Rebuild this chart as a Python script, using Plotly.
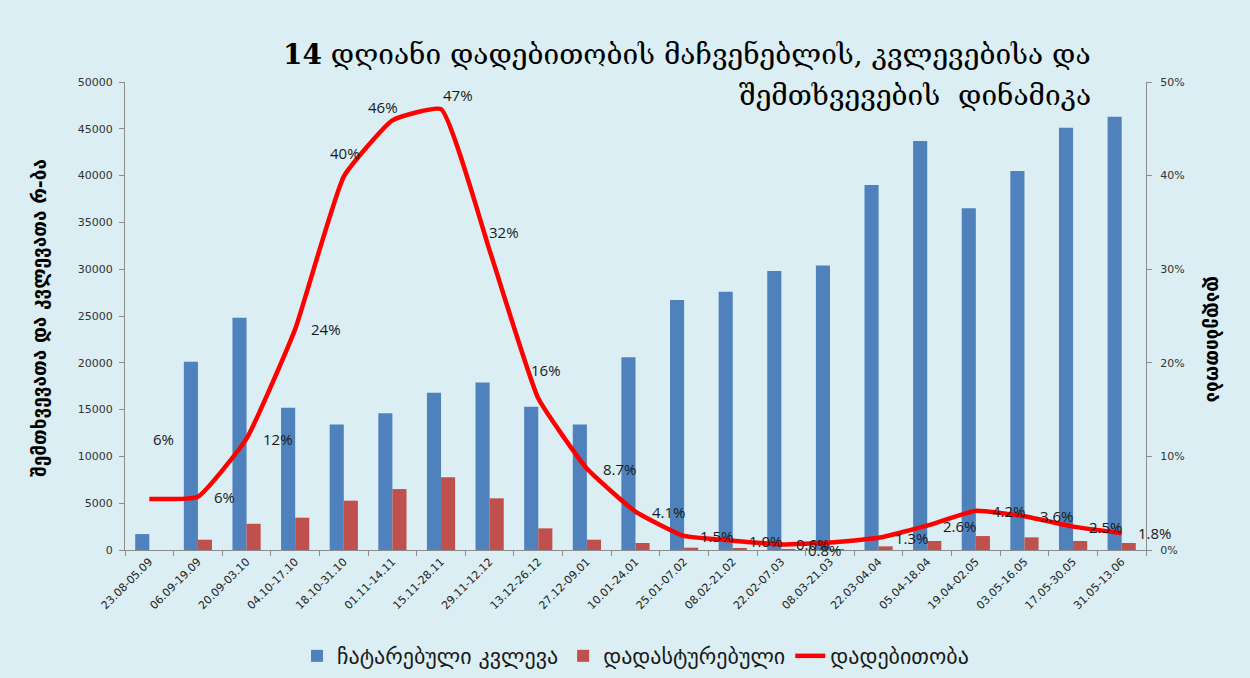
import plotly.graph_objects as go

categories = ["23.08-05.09", "06.09-19.09", "20.09-03.10", "04.10-17.10", "18.10-31.10",
              "01.11-14.11", "15.11-28.11", "29.11-12.12", "13.12-26.12", "27.12-09.01",
              "10.01-24.01", "25.01-07.02", "08.02-21.02", "22.02-07.03", "08.03-21.03",
              "22.03-04.04", "05.04-18.04", "19.04-02.05", "03.05-16.05", "17.05-30.05",
              "31.05-13.06"]
tests = [1700, 20100, 24800, 15200, 13400, 14600, 16800, 17900, 15300, 13400,
         20600, 26700, 27600, 29800, 30400, 39000, 43700, 36500, 40500, 45100, 46300]
confirmed = [0, 1100, 2800, 3450, 5270, 6510, 7760, 5520, 2310, 1100,
             750, 250, 110, 90, 80, 390, 960, 1490, 1350, 960, 750]
positivity = [5.45, 5.7, 11.9, 23.6, 39.9, 45.9, 47.1, 32.0, 16.2, 8.7,
              4.1, 1.5, 1.0, 0.6, 0.8, 1.3, 2.6, 4.2, 3.6, 2.5, 1.8]
positivity_labels = ["6%", "6%", "12%", "24%", "40%", "46%", "47%", "32%", "16%", "8.7%",
                     "4.1%", "1.5%", "1.0%", "0.6%", "0.8%", "1.3%", "2.6%", "4.2%", "3.6%",
                     "2.5%", "1.8%"]
left_ticks = list(range(0, 50001, 5000))
right_ticks = [0, 10, 20, 30, 40, 50]
right_ticktext = ["0%", "10%", "20%", "30%", "40%", "50%"]

title_line1 = "<b>14</b> დღიანი დადებითობის მაჩვენებლის, კვლევებისა და"
title_line2 = "შემთხვევების  დინამიკა"
left_title = "შემთხვევათა და კვლევათა რ-ბა"
right_title = "დადებითობა"
legend_names = ["ჩატარებული კვლევა", "დადასტურებული", "დადებითობა"]

# label placement styles: (anchor, xshift, yshift)
label_style = [("center", 14, 60), ("left", 14, 0), ("left", 14, 0), ("left", 14, 0),
               ("center", 1, 24), ("center", -9, 13), ("left", 0, 14), ("left", -3, 18),
               ("center", 8, 28), ("left", 14, 0), ("left", 14, 0), ("left", 14, 0),
               ("left", 14, 0), ("left", 13, 0), ("center", -5, -7), ("left", 14, 0),
               ("left", 14, 0), ("left", 14, 0), ("left", 14, 0), ("left", 14, 0),
               ("left", 14, 0)]

BG = "#DAEEF3"
GEO = "DejaVu Sans"
NUM = "DejaVu Sans"
AXC = "#8C8C8C"

fig = go.Figure()
fig.add_trace(go.Bar(x=categories, y=tests, name=legend_names[0],
                     marker=dict(color="#4F81BD", line=dict(width=0))))
fig.add_trace(go.Bar(x=categories, y=confirmed, name=legend_names[1],
                     marker=dict(color="#C0504D", line=dict(width=0))))
fig.add_trace(go.Scatter(x=categories, y=positivity, name=legend_names[2], yaxis="y2",
                         mode="lines", line=dict(color="#FF0000", width=4.5,
                                                 shape="spline", smoothing=0.4)))

annotations = []
for c, v, t, (anc, dx, dy) in zip(categories, positivity, positivity_labels, label_style):
    annotations.append(dict(x=c, y=v, xref="x", yref="y2", text=t, showarrow=False,
                            xanchor=anc, yanchor="middle", xshift=dx, yshift=dy,
                            font=dict(family="Open Sans", size=15, color="#1a1a1a")))

annotations += [
    dict(x=0.948, y=1.0577, xref="paper", yref="paper", text=title_line1, showarrow=False,
         xanchor="right", yanchor="middle",
         font=dict(family="DejaVu Serif", size=28, color="#000000")),
    dict(x=0.948, y=0.972, xref="paper", yref="paper", text=title_line2, showarrow=False,
         xanchor="right", yanchor="middle",
         font=dict(family="DejaVu Serif", size=28, color="#000000")),
    dict(x=-0.0833, y=0.496, xref="paper", yref="paper", text="<b>" + left_title + "</b>",
         showarrow=False, textangle=-90, xanchor="center", yanchor="middle",
         font=dict(family=GEO, size=19, color="#000000")),
    dict(x=1.0656, y=0.449, xref="paper", yref="paper", text="<b>" + right_title + "</b>",
         showarrow=False, textangle=90, xanchor="center", yanchor="middle",
         font=dict(family=GEO, size=19, color="#000000")),
]

fig.update_layout(
    width=1250, height=678,
    paper_bgcolor=BG, plot_bgcolor=BG,
    margin=dict(l=125, r=104, t=82, b=128, autoexpand=False),
    barmode="group", bargap=0.42, bargroupgap=0,
    showlegend=True,
    legend=dict(orientation="h", x=0.5, xanchor="center", yref="container",
                y=0.0324, yanchor="middle",
                font=dict(family=GEO, size=22, color="#1a1a1a"),
                bgcolor="rgba(0,0,0,0)", itemwidth=30, traceorder="normal"),
    xaxis=dict(type="category", range=[-0.5, len(categories) - 0.5], automargin=False,
               showline=True, linecolor=AXC, linewidth=1,
               ticks="outside", ticklen=5, tickcolor=AXC, tickson="boundaries",
               tickangle=-45, showgrid=False, zeroline=False,
               tickfont=dict(family=NUM, size=11, color="#222222")),
    yaxis=dict(range=[0, 50000], tickvals=left_ticks, tickformat="d", showline=True,
               automargin=False, ticklabelstandoff=4,
               linecolor=AXC, linewidth=1, ticks="outside", ticklen=5, tickcolor=AXC,
               showgrid=False, zeroline=False,
               tickfont=dict(family=NUM, size=11, color="#333333")),
    yaxis2=dict(range=[0, 50], overlaying="y", side="right", tickvals=right_ticks,
                automargin=False, ticklabelstandoff=6,
                ticktext=right_ticktext, showline=True, linecolor=AXC, linewidth=1,
                ticks="outside", ticklen=5, tickcolor=AXC, showgrid=False,
                zeroline=False, tickfont=dict(family=NUM, size=11, color="#333333")),
    annotations=annotations,
)

fig.write_html("out.html", config={"displayModeBar": False},
               post_script="document.body.style.margin='0';document.body.style.overflow='hidden';")
